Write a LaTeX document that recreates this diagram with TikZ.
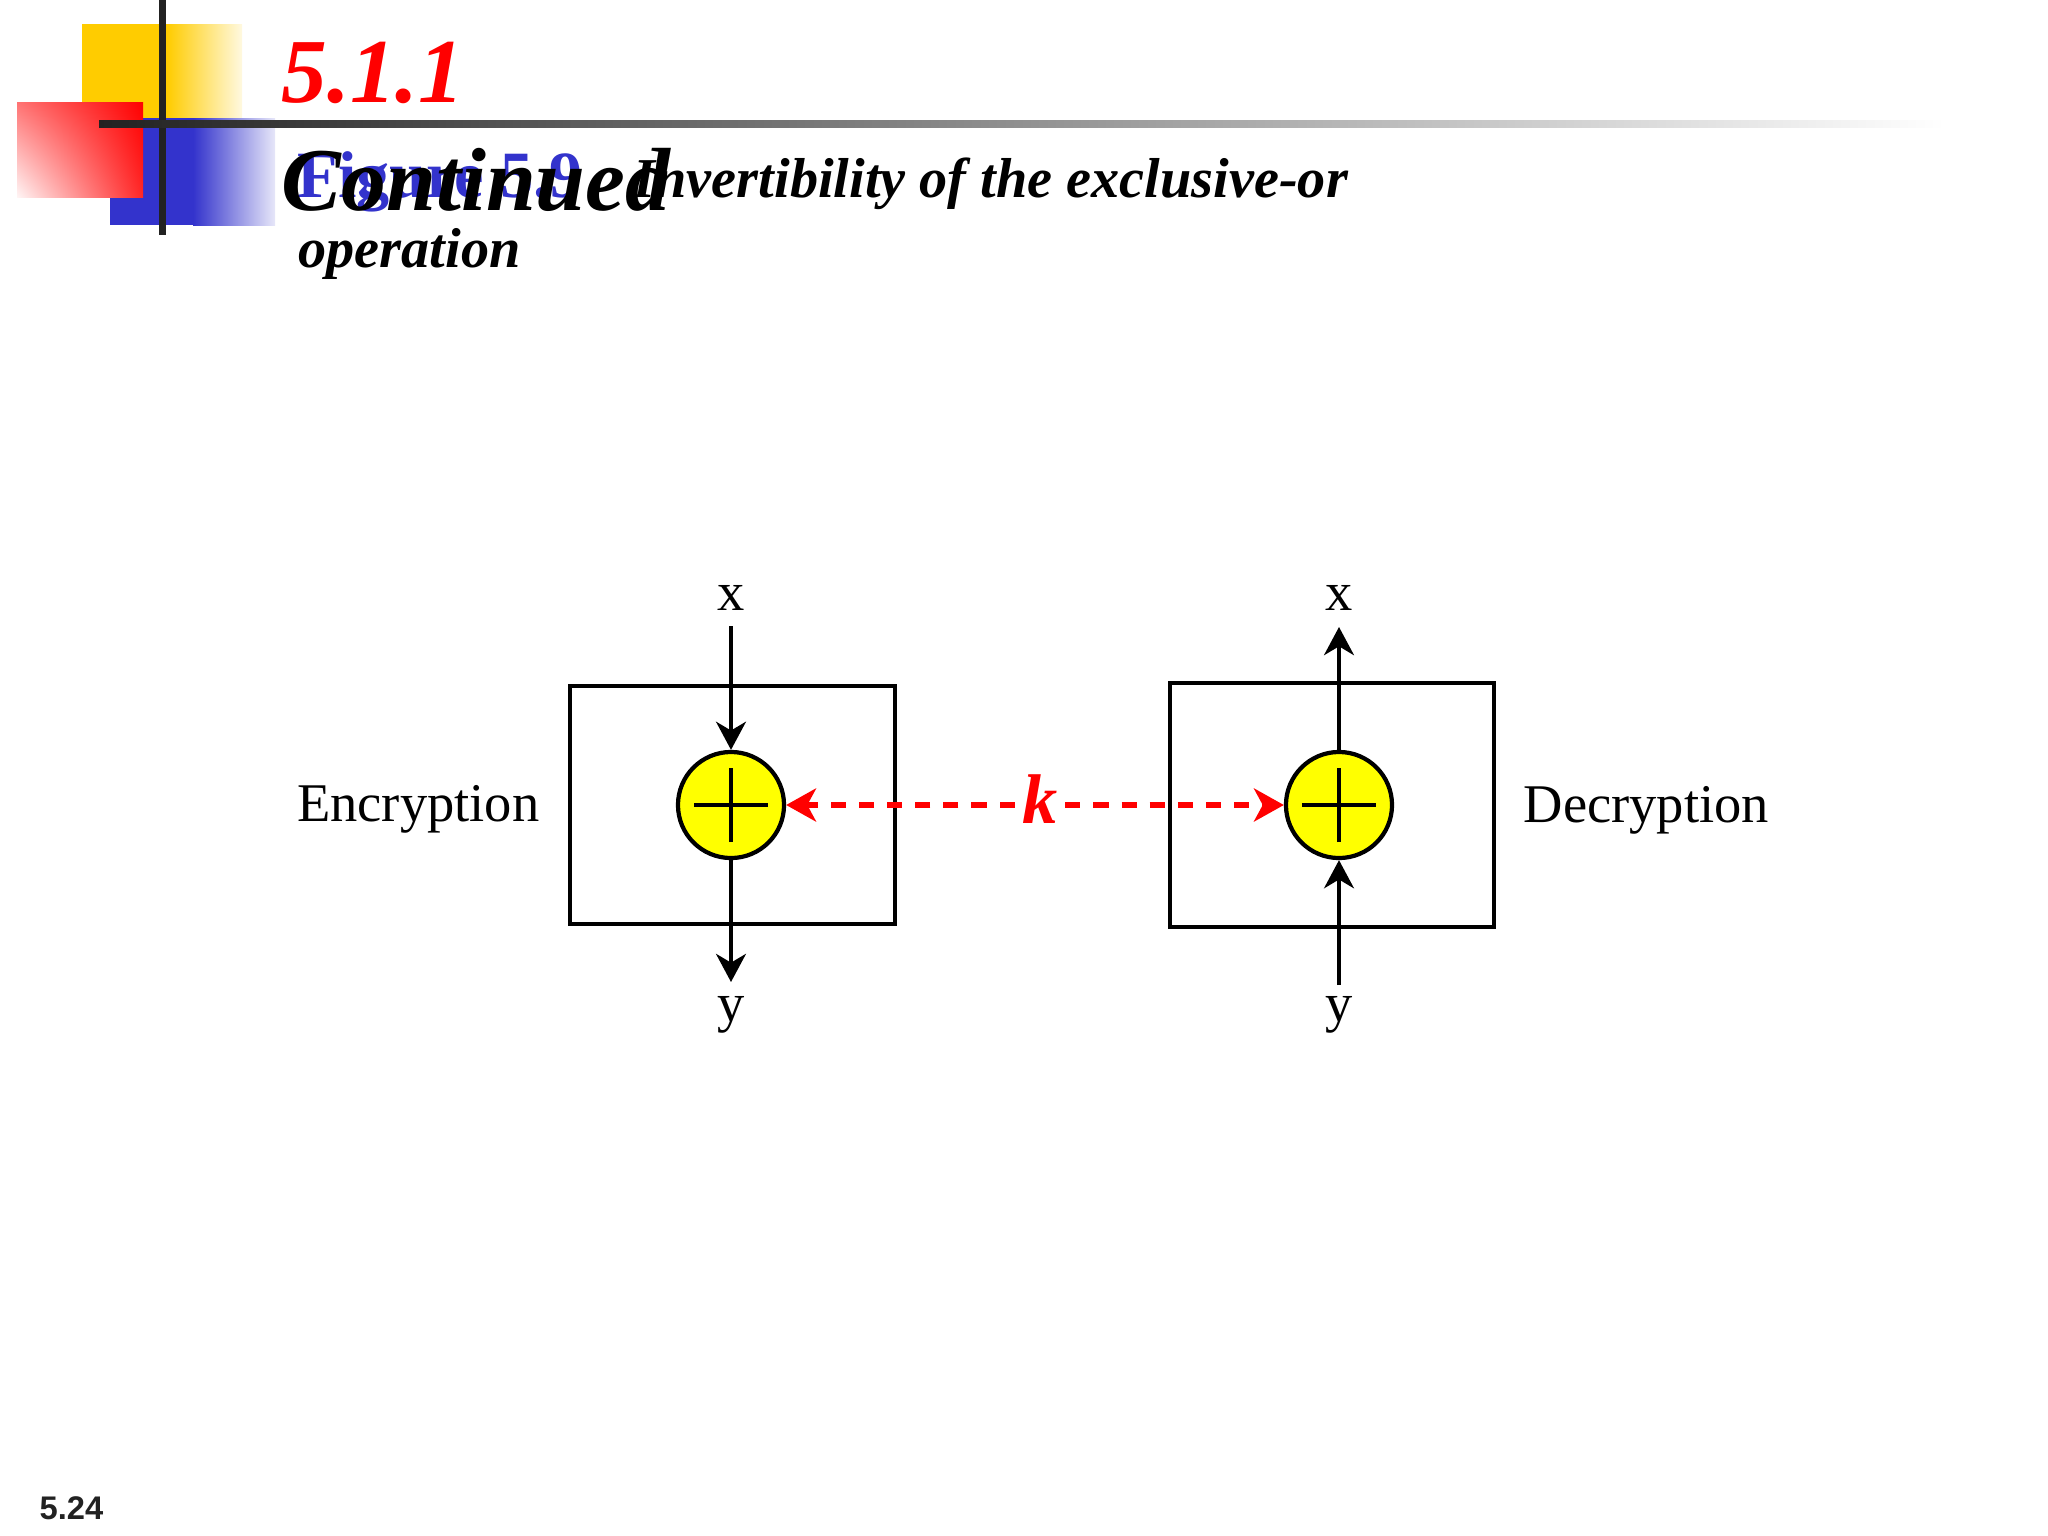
\documentclass[tikz,border=0pt]{standalone}
\usepackage{fontspec}
\setmainfont{Liberation Serif}
\newfontfamily\footsans{Liberation Sans}
\usetikzlibrary{arrows.meta,shadings}
\definecolor{logoyellow}{HTML}{FFCC00}
\definecolor{logoblue}{HTML}{3333CC}
\definecolor{logored}{HTML}{FF0000}
\definecolor{xoryellow}{HTML}{FFFF00}
\definecolor{darkline}{HTML}{222222}
\definecolor{keyred}{HTML}{FF0000}
\definecolor{figblue}{HTML}{3333CC}
\begin{document}
\begin{tikzpicture}[x=0.01cm,y=-0.01cm,
  opbox/.style={draw=black,line width=1.1pt,inner sep=0pt},
  xorc/.style={circle,draw=black,line width=1.2pt,fill=xoryellow,minimum size=1.06cm,inner sep=0pt},
  plusline/.style={line width=0.9pt},
  flow/.style={line width=1.1pt,-{Stealth[length=8pt,width=8.5pt,inset=2.5pt]}},
  keyflow/.style={draw=keyred,line width=1.7pt,dash pattern=on 4.3pt off 3.7pt,-{Stealth[length=8.5pt,width=9.4pt,inset=2.5pt]}},
  lbl/.style={font=\fontsize{15.5}{18}\selectfont,inner sep=0pt},
  ttl/.style={inner sep=0pt,anchor=base west}]
\useasboundingbox (0,0) rectangle (2048,1536);
% logo
\fill[logoyellow] (82,24) rectangle (168,124);
\shade[left color=logoyellow,right color=logoyellow!12] (167,24) rectangle (242,124);
\fill[logoblue] (110,118) rectangle (194,225);
\shade[left color=logoblue,right color=logoblue!12] (193,118) rectangle (275,225);
\shade[upper left=logored!55,upper right=logored,lower left=logored!4,lower right=logored!85] (17,102) rectangle (143,197);
\fill[darkline] (159,0) rectangle (166,235);
\shade[left color=darkline,right color=white] (99,120) rectangle (1945,127);
% titles
\node[ttl,text=logored,font=\fontsize{26}{30}\selectfont\bfseries\itshape] (sec) at (281,102) {5.1.1};
\node[ttl,text=figblue,font=\fontsize{18.8}{22}\selectfont\bfseries] (fig) at (297,197) {Figure 5.9};
\node[ttl,font=\fontsize{16}{19}\selectfont\bfseries\itshape] (cap1) at (633,197) {Invertibility of the exclusive-or};
\node[ttl,font=\fontsize{16}{19}\selectfont\bfseries\itshape] (cap2) at (298,267) {operation};
\node[ttl,font=\fontsize{25.5}{30}\selectfont\bfseries\itshape] (cont) at (281,210) {Continued};
% boxes
\node[opbox,minimum width=3.25cm,minimum height=2.38cm] (B1) at (732.5,805) {};
\node[opbox,minimum width=3.24cm,minimum height=2.44cm] (B2) at (1332,805) {};
% xor circles
\node[xorc] (L) at (731,805) {};
\node[xorc] (R) at (1339,805) {};
\draw[plusline] ([xshift=-0.37cm]L.center) -- ([xshift=0.37cm]L.center);
\draw[plusline] ([yshift=-0.37cm]L.center) -- ([yshift=0.37cm]L.center);
\draw[plusline] ([xshift=-0.37cm]R.center) -- ([xshift=0.37cm]R.center);
\draw[plusline] ([yshift=-0.37cm]R.center) -- ([yshift=0.37cm]R.center);
% labels
\node[lbl,anchor=base] (xl) at (731,610) {x};
\node[lbl,anchor=base] (yl) at (731,1021) {y};
\node[lbl,anchor=base] (xr) at (1339,610) {x};
\node[lbl,anchor=base] (yr) at (1339,1021) {y};
\node[lbl,anchor=base east] (enc) at (540,821) {Encryption};
\node[lbl,anchor=base west] (dec) at (1523,822) {Decryption};
\node[inner sep=2pt,anchor=base,text=keyred,font=\fontsize{20}{24}\selectfont\bfseries\itshape] (k) at (1040,823) {k};
% arrow endpoints
\coordinate (xin) at (731,626);
\coordinate (yout) at (731,982);
\coordinate (xout) at (1339,627);
\coordinate (yin) at (1339,985);
\draw[flow] (xin) -- (L.north);
\draw[flow] (L.south) -- (yout);
\draw[flow] (R.north) -- (xout);
\draw[flow] (yin) -- (R.south);
\draw[keyflow] (k.west |- L.east) -- (L.east);
\draw[keyflow] (k.east |- R.west) -- (R.west);
% footer
\node[ttl,text=darkline,font=\footsans\fontsize{9.3}{11}\selectfont\bfseries] (pg) at (39,1519) {5.24};
\end{tikzpicture}
\end{document}
